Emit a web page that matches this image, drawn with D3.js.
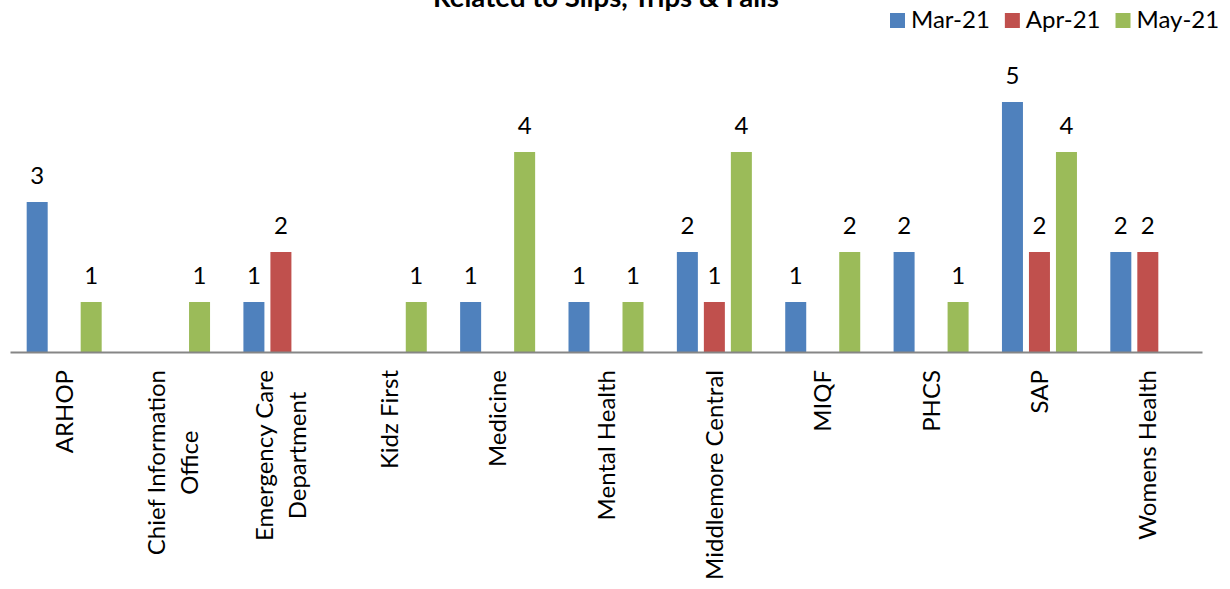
<!DOCTYPE html>
<html>
<head>
<meta charset="utf-8">
<script src="https://cdn.jsdelivr.net/npm/d3@7"></script>
<style>
  html, body { margin: 0; padding: 0; background: #fff; }
  svg { display: block; font-family: Lato, "Open Sans", sans-serif; }
</style>
</head>
<body>
<svg id="chart" width="1230" height="589"></svg>
<script>
// Incidents related to slips, trips & falls, by service and month
const categories = [
  ["ARHOP"],
  ["Chief Information", "Office"],
  ["Emergency Care", "Department"],
  ["Kidz First"],
  ["Medicine"],
  ["Mental Health"],
  ["Middlemore Central"],
  ["MIQF"],
  ["PHCS"],
  ["SAP"],
  ["Womens Health"]
];
const seriesNames = ["Mar-21", "Apr-21", "May-21"];
const mar21 = [3, null, 1, null, 1, 1, 2, 1, 2, 5, 2];
const apr21 = [null, null, 2, null, null, null, 1, null, null, 2, 2];
const may21 = [1, 1, null, 1, 4, 1, 4, 2, 1, 4, null];
const seriesColors = ["#4F81BD", "#C0504D", "#9BBB59"];
const titleText = "Related to Slips, Trips & Falls";

const seriesValues = [mar21, apr21, may21];
const catKeys = categories.map(c => c.join(" "));

const svg = d3.select("#chart");

const x = d3.scaleBand().domain(catKeys).range([10, 1202]).padding(0);
const y = d3.scaleLinear().domain([0, 5]).range([352, 102]);
const groupWidth = 75;
const xInner = d3.scaleBand()
  .domain(seriesNames)
  .range([-groupWidth / 2, groupWidth / 2])
  .paddingInner(6 / 27)
  .paddingOuter(0);

// Title
svg.append("text")
  .attr("x", 606)
  .attr("y", 7)
  .attr("text-anchor", "middle")
  .attr("font-weight", "bold")
  .attr("font-size", 27.5)
  .attr("fill", "#000")
  .text(titleText);

// Bars and value labels
seriesNames.forEach((name, si) => {
  const data = seriesValues[si]
    .map((v, i) => ({ key: catKeys[i], v }))
    .filter(d => d.v != null);
  const g = svg.append("g").attr("class", "series");
  g.selectAll("rect").data(data).join("rect")
    .attr("x", d => x(d.key) + x.bandwidth() / 2 + xInner(name))
    .attr("y", d => y(d.v))
    .attr("width", xInner.bandwidth())
    .attr("height", d => y(0) - y(d.v))
    .attr("fill", seriesColors[si]);
  g.selectAll("text").data(data).join("text")
    .attr("x", d => x(d.key) + x.bandwidth() / 2 + xInner(name) + xInner.bandwidth() / 2)
    .attr("y", d => y(d.v) - 18)
    .attr("text-anchor", "middle")
    .attr("font-size", 24)
    .attr("fill", "#000")
    .text(d => d.v);
});

// Category axis
const xAxis = svg.append("g").attr("transform", `translate(0,${y(0)})`)
  .call(d3.axisBottom(x).tickSize(0).tickFormat(""));
xAxis.select(".domain").attr("stroke", "#868686").attr("stroke-width", 2);

// Rotated, multi-line category labels
const lineHeight = 33;
const labelTop = 370;
categories.forEach((lines, i) => {
  const cx = x(catKeys[i]) + x.bandwidth() / 2;
  const g = svg.append("g");
  const texts = lines.map(line => g.append("text")
    .attr("font-size", 24)
    .attr("fill", "#000")
    .attr("text-anchor", "middle")
    .text(line));
  const maxLen = d3.max(texts, t => t.node().getComputedTextLength());
  const cy = labelTop + maxLen / 2;
  texts.forEach((t, li) => {
    const lx = cx + (li - (lines.length - 1) / 2) * lineHeight;
    t.attr("transform", `translate(${lx},${cy}) rotate(-90)`)
      .attr("dy", "0.36em");
  });
});

// Legend
const legend = svg.append("g");
let lx = 890;
seriesNames.forEach((name, si) => {
  legend.append("rect")
    .attr("x", lx).attr("y", 13)
    .attr("width", 15).attr("height", 15)
    .attr("fill", seriesColors[si]);
  const t = legend.append("text")
    .attr("x", lx + 21).attr("y", 28)
    .attr("font-size", 24)
    .attr("fill", "#000")
    .text(name);
  lx += 21 + t.node().getComputedTextLength() + 15;
});
</script>
</body>
</html>
